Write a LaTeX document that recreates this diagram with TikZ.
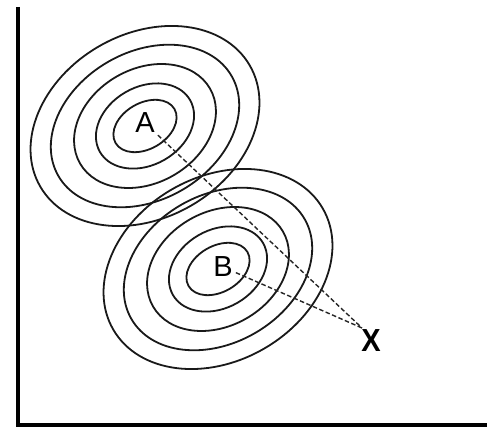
\documentclass[tikz,border=0pt]{standalone}
\usepackage{fontspec}
\setmainfont{Liberation Sans}
\tikzset{
  ring/.style={draw=black!90, line width=1.8pt},
  axisline/.style={draw=black, line width=3.8pt, line join=miter},
  guide/.style={draw=black!85, line width=1.4pt, dash pattern=on 4.5pt off 2.5pt},
  lbl/.style={inner sep=3pt, font=\fontsize{29}{30}\selectfont},
  xlbl/.style={inner sep=0pt, font=\fontsize{29}{30}\selectfont\bfseries, yscale=1.1}
}
\begin{document}
\begin{tikzpicture}[x=1pt,y=1pt]
\useasboundingbox (0,0) rectangle (487,427);
\fill[white] (0,0) rectangle (487,427);
% axes
\draw[axisline] (18,420) -- (18,2) -- (487,2);
% contour rings A
\begin{scope}[shift={(145,301)}, rotate=30]
  \foreach \a/\b in {34/23, 52/39, 75/57, 100/74, 121/92}
    \draw[ring] (0,0) ellipse [x radius=\a pt, y radius=\b pt];
\end{scope}
% contour rings B
\begin{scope}[shift={(218,158)}, rotate=30]
  \foreach \a/\b in {34/23, 52/39, 75/57, 100/74, 121/92}
    \draw[ring] (0,0) ellipse [x radius=\a pt, y radius=\b pt];
\end{scope}
% labels
\node[lbl] (A) at (145,304) {A};
\node[lbl] (B) at (223,160) {B};
\node[xlbl] (X) at (371,86) {X};
\coordinate (Xp) at (362,99);
% dashed guides
\draw[guide] (A) -- (Xp);
\draw[guide] (B) -- (Xp);
\end{tikzpicture}
\end{document}
